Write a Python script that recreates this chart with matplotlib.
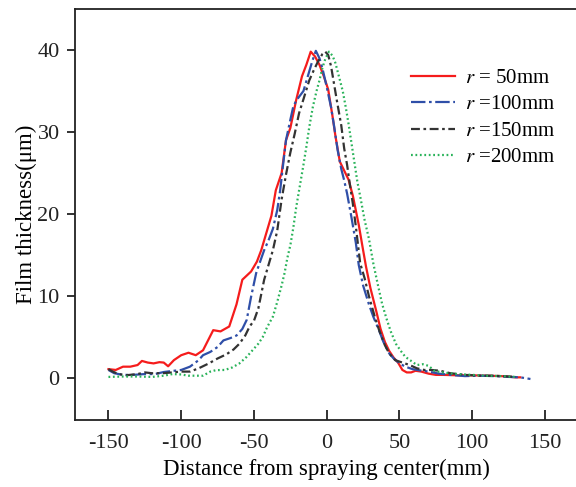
import numpy as np
import matplotlib.pyplot as plt

plt.rcParams['font.family'] = ['Liberation Serif', 'DejaVu Serif']
plt.rcParams['mathtext.fontset'] = 'stix'
plt.rcParams['axes.unicode_minus'] = False

# r = 50mm
x_r = [-150, -145, -140, -135, -130, -127, -123, -119, -115, -112, -109, -105, -100, -95, -90,
       -85, -81, -78, -73, -67, -62, -58, -55, -52, -48, -45, -41, -38, -35, -31,
       -28, -25, -21, -17, -14, -11, -8, -5, -2, 1, 4, 6, 9, 12, 15,
       18, 22, 25, 27, 30, 34, 37, 40, 43, 46, 49, 52, 55, 58, 61,
       65, 70, 75, 80, 90, 100, 110, 120, 130, 133]
y_r = [1.1, 1.0, 1.4, 1.4, 1.6, 2.1, 1.9, 1.8, 1.95, 1.9, 1.45, 2.2, 2.8, 3.1, 2.8,
       3.4, 4.8, 5.85, 5.7, 6.3, 9.0, 12.0, 12.5, 13.0, 14.2, 15.6, 18.0, 19.8, 22.9, 25.0,
       29.0, 30.5, 33.9, 36.8, 38.2, 39.8, 39.2, 38.2, 36.8, 35.2, 31.9, 29.5, 26.4, 25.3, 24.2,
       22.2, 18.7, 15.6, 13.6, 11.0, 8.2, 6.0, 4.4, 3.3, 2.5, 1.9, 1.0, 0.7, 0.7, 0.9,
       0.8, 0.55, 0.4, 0.4, 0.35, 0.35, 0.3, 0.25, 0.1, 0.1]

# r = 100mm
x_b = [-150, -146, -140, -133, -125, -118, -112, -105, -100, -94, -88, -85, -80, -75, -71,
       -66, -62, -58, -55, -52, -48.5, -45, -43, -40, -37, -34, -32, -30, -28, -25,
       -23, -21, -19, -16, -13, -10, -7.5, -5, -3, 0, 3, 5, 7.5, 10, 12,
       14, 17, 20, 22, 25, 29, 32, 36, 39, 43, 46, 50, 54, 59, 64,
       70, 77, 85, 95, 105, 115, 125, 133, 140]
y_b = [1.0, 0.6, 0.4, 0.4, 0.5, 0.5, 0.75, 0.9, 1.0, 1.4, 2.2, 2.8, 3.2, 3.8, 4.6,
       4.9, 5.2, 6.0, 7.1, 9.9, 12.8, 14.6, 15.6, 16.8, 18.2, 20.5, 22.9, 26.0, 29.0, 31.5,
       33.1, 33.8, 34.3, 35.0, 36.8, 38.6, 39.9, 39.0, 37.8, 35.5, 33.0, 30.8, 27.8, 25.5, 24.1,
       22.5, 19.6, 16.5, 13.8, 11.3, 9.0, 7.5, 5.8, 4.4, 3.0, 2.4, 1.8, 1.4, 1.1, 0.95,
       0.8, 0.55, 0.4, 0.25, 0.3, 0.25, 0.15, 0.1, -0.1]

# r = 150mm
x_k = [-150, -147, -143, -138, -130, -125, -120, -113, -106, -100, -94, -88, -81, -75, -69,
       -64, -60, -56, -53, -50, -47, -43, -40, -37, -34, -31, -28, -25, -22, -19,
       -16, -12, -9, -6, -3, -1, 1, 3, 5, 7, 10, 12, 14, 16, 18,
       20, 23, 26, 29, 33, 36, 40, 43, 47, 52, 57, 62, 67, 72, 78,
       85, 95, 105, 115, 125, 130]
y_k = [1.1, 0.8, 0.5, 0.35, 0.5, 0.7, 0.6, 0.6, 0.7, 0.8, 0.8, 1.2, 1.8, 2.4, 2.9,
       3.5, 4.2, 5.2, 6.3, 7.0, 8.5, 12.0, 13.8, 15.6, 18.0, 21.8, 24.8, 27.5, 29.8, 32.3,
       34.0, 36.3, 37.5, 38.6, 39.5, 39.8, 39.4, 38.0, 35.9, 33.8, 30.8, 28.0, 26.0, 23.5, 21.2,
       18.5, 14.0, 12.2, 10.0, 7.5, 5.85, 4.0, 3.0, 2.2, 1.9, 1.6, 1.2, 1.0, 1.0, 0.9,
       0.6, 0.4, 0.3, 0.3, 0.2, 0.15]

# r = 200mm
x_g = [-150, -140, -130, -120, -112, -106, -100, -95, -90, -85, -80, -76, -70, -65, -60,
       -55, -51, -47, -44, -41, -37, -34, -31, -29, -27, -25, -23, -21, -19, -16,
       -14, -12, -9.5, -7, -5, -3, -1, 1.5, 4, 6, 8.5, 11, 13, 15, 18,
       21, 23.5, 26, 29, 32, 35, 38, 41, 44, 47.5, 51, 54, 58, 62, 66,
       70, 74, 78, 84, 90, 100, 110, 120, 130]
y_g = [0.15, 0.2, 0.2, 0.15, 0.3, 0.5, 0.45, 0.3, 0.3, 0.3, 0.8, 0.98, 1.0, 1.3, 1.8,
       2.6, 3.4, 4.2, 5.0, 6.2, 7.5, 9.3, 11.3, 12.8, 14.7, 16.2, 18.3, 20.8, 22.9, 26.0,
       28.2, 30.6, 33.1, 35.0, 36.3, 37.8, 38.9, 39.8, 39.3, 38.4, 36.7, 35.0, 33.1, 31.0, 27.5,
       24.0, 21.7, 19.3, 17.0, 14.0, 11.5, 9.1, 7.3, 5.7, 4.2, 3.3, 2.6, 2.1, 1.6, 1.7,
       1.5, 0.9, 0.75, 0.6, 0.5, 0.4, 0.3, 0.25, 0.15]

labels = ['$r$ = 50mm', '$r$ =100mm', '$r$ =150mm', '$r$ =200mm']

fig = plt.figure(figsize=(5.76, 4.87), dpi=100)
ax = fig.add_axes([75 / 576, 67 / 487, 502 / 576, 411 / 487])

ax.plot(x_r, y_r, color='#f51c1c', lw=1.6, ls='-', label=labels[0])
ax.plot(x_b, y_b, color='#2f4fa8', lw=1.6, dashes=(6.5, 1.6, 1.2, 1.6), label=labels[1])
ax.plot(x_k, y_k, color='#333333', lw=1.6, dashes=(4, 1.6, 1.2, 1.6), label=labels[2])
ax.plot(x_g, y_g, color='#2ab35a', lw=1.6, dashes=(0.8, 1.2), label=labels[3])

ax.set_xlim(-173, 172)
ax.set_ylim(-5.1, 45)
ax.set_xticks(np.arange(-150, 151, 50))
ax.set_yticks(np.arange(0, 41, 10))

for s in ax.spines.values():
    s.set_linewidth(1.3)
    s.set_color('#222222')
ax.spines['right'].set_visible(False)

ax.tick_params(axis='x', direction='in', length=7, width=1.3, labelsize=16, pad=10, colors='#222222')
ax.tick_params(axis='y', direction='out', length=6, width=1.3, labelsize=16, pad=5, colors='#222222')

ax.set_xlabel('Distance from spraying center(mm)', fontsize=16.5, labelpad=4)
ax.set_ylabel('Film thickness(μm)', fontsize=16.5, labelpad=0)

ax.legend(loc='upper left', bbox_to_anchor=(0.653, 0.876), frameon=False, fontsize=15,
          handlelength=2.1, handletextpad=0.5, labelspacing=0.33, borderaxespad=0)

fig.savefig('out.png', dpi=100)
